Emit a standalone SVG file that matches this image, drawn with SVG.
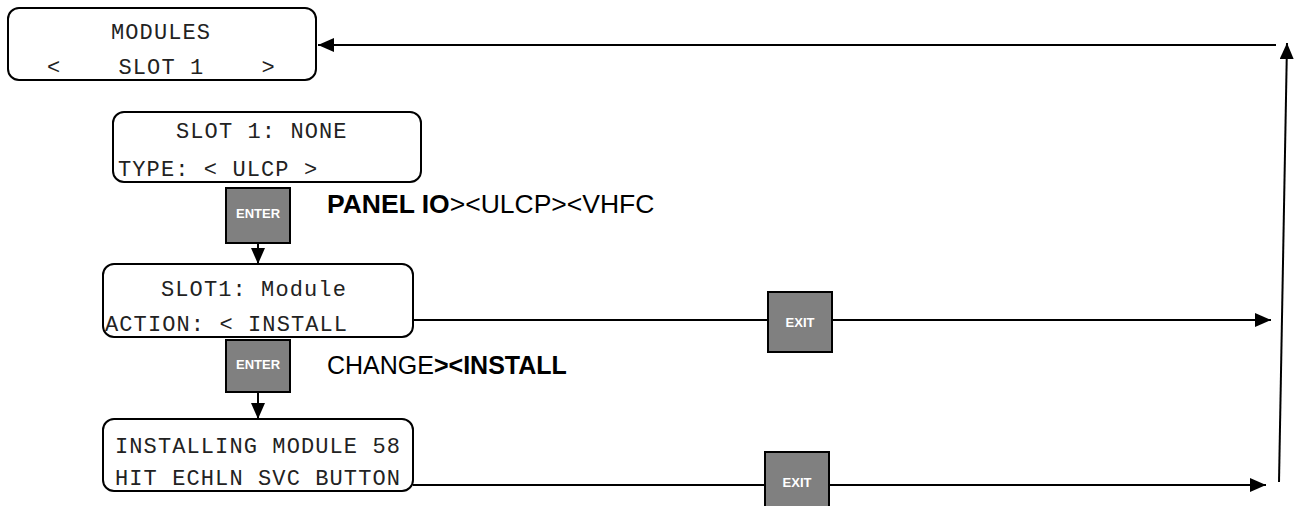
<svg xmlns="http://www.w3.org/2000/svg" width="1304" height="506" viewBox="0 0 1304 506">
<style>
.box{fill:#fff;stroke:#000;stroke-width:2}
.btn{fill:#808080;stroke:#000;stroke-width:2}
.mono{font-family:"Courier New","Liberation Mono",monospace;font-size:22px;letter-spacing:1.1px;fill:#222}
.btxt{font-family:"Liberation Sans",Arial,sans-serif;font-size:13px;font-weight:bold;fill:#fff;text-anchor:middle}
.lbl{font-family:"Liberation Sans",Arial,sans-serif;fill:#000}
.b{font-weight:bold}
.ln{stroke:#000;stroke-width:2;fill:none}
</style>
<defs>
<marker id="ahl" viewBox="0 0 16 14" refX="16" refY="7" markerWidth="16" markerHeight="14" markerUnits="userSpaceOnUse" orient="auto">
<path d="M0,0 L16,7 L0,14 z" fill="#000"/>
</marker>
</defs>

<g id="connectors">
<line class="ln" x1="1276" y1="45" x2="318" y2="45" marker-end="url(#ahl)"/>
<line class="ln" x1="1279" y1="482" x2="1287" y2="43" marker-end="url(#ahl)"/>
<line class="ln" x1="413" y1="320" x2="1271" y2="320" marker-end="url(#ahl)"/>
<line class="ln" x1="413" y1="485" x2="1266" y2="485" marker-end="url(#ahl)"/>
<line class="ln" x1="258" y1="236" x2="258" y2="264" marker-end="url(#ahl)"/>
<line class="ln" x1="258" y1="388" x2="258" y2="419" marker-end="url(#ahl)"/>
</g>

<g id="modules">
<rect class="box" x="8" y="8" width="308" height="72" rx="11"/>
<text class="mono" x="111" y="39">MODULES</text>
<text class="mono" x="47" y="74" xml:space="preserve">&lt;    SLOT 1    &gt;</text>
</g>

<g id="slot1-none">
<rect class="box" x="113" y="112" width="308" height="70" rx="11"/>
<text class="mono" x="176" y="138">SLOT 1: NONE</text>
<text class="mono" x="118" y="176">TYPE: &lt; ULCP &gt;</text>
</g>

<g id="enter1">
<rect class="btn" x="226" y="188" width="64" height="55"/>
<text class="btxt" x="258" y="218">ENTER</text>
</g>

<g id="label1">
<text class="lbl" x="327" y="213" font-size="26.5"><tspan class="b">PANEL IO</tspan>&gt;&lt;ULCP&gt;&lt;VHFC</text>
</g>

<g id="slot1-module">
<rect class="box" x="103" y="264" width="310" height="73" rx="11"/>
<text class="mono" x="161" y="296">SLOT1: Module</text>
<text class="mono" x="105" y="331">ACTION: &lt; INSTALL</text>
</g>

<g id="exit1">
<rect class="btn" x="768" y="292" width="64" height="60"/>
<text class="btxt" x="800" y="327">EXIT</text>
</g>

<g id="enter2">
<rect class="btn" x="226" y="340" width="64" height="52"/>
<text class="btxt" x="258" y="369">ENTER</text>
</g>

<g id="label2">
<text class="lbl" x="327" y="374" font-size="25">CHANGE<tspan class="b">&gt;&lt;INSTALL</tspan></text>
</g>

<g id="installing">
<rect class="box" x="103" y="419" width="310" height="72" rx="11"/>
<text class="mono" x="115" y="453">INSTALLING MODULE 58</text>
<text class="mono" x="115" y="485">HIT ECHLN SVC BUTTON</text>
</g>

<g id="exit2">
<rect class="btn" x="765" y="452" width="64" height="62"/>
<text class="btxt" x="797" y="487">EXIT</text>
</g>
</svg>
